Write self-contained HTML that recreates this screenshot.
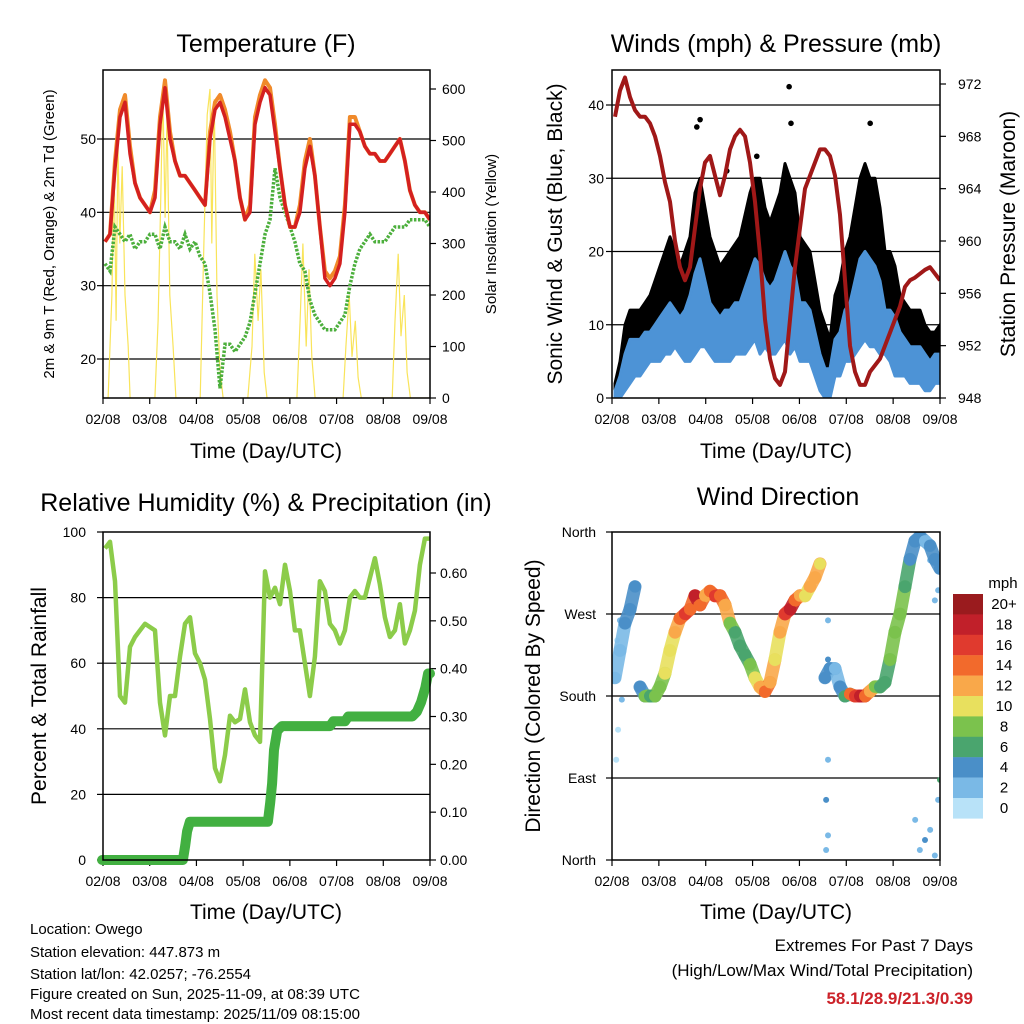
<!DOCTYPE html>
<html><head><meta charset="utf-8"><style>
html,body{margin:0;padding:0;background:#fff;}
svg{display:block;font-family:"Liberation Sans",Arial,sans-serif;}
</style></head><body>
<svg id="root" width="1024" height="1024" viewBox="0 0 1024 1024" xmlns="http://www.w3.org/2000/svg">
<rect width="1024" height="1024" fill="#fff"/>
<g font-size="25" text-anchor="middle">
<text x="266" y="52">Temperature (F)</text>
<text x="776" y="52">Winds (mph) &amp; Pressure (mb)</text>
<text x="266" y="511">Relative Humidity (%) &amp; Precipitation (in)</text>
<text x="778" y="505">Wind Direction</text>
</g>
<g font-size="21" text-anchor="middle">
<text x="266" y="458">Time (Day/UTC)</text>
<text x="776" y="458">Time (Day/UTC)</text>
<text x="266" y="919">Time (Day/UTC)</text>
<text x="776" y="919">Time (Day/UTC)</text>
<text transform="translate(562,234) rotate(-90)">Sonic Wind &amp; Gust (Blue, Black)</text>
<text transform="translate(1015,234) rotate(-90)">Station Pressure (Maroon)</text>
<text transform="translate(46,696) rotate(-90)">Percent &amp; Total Rainfall</text>
<text transform="translate(540,696) rotate(-90)">Direction (Colored By Speed)</text>
</g>
<g font-size="15" text-anchor="middle">
<text transform="translate(54,234) rotate(-90)">2m &amp; 9m T (Red, Orange) &amp; 2m Td (Green)</text>
<text transform="translate(496,234) rotate(-90)">Solar Insolation (Yellow)</text>
</g>
<g font-size="15">
<text x="30" y="934">Location: Owego</text>
<text x="30" y="957">Station elevation: 447.873 m</text>
<text x="30" y="979">Station lat/lon: 42.0257; -76.2554</text>
<text x="30" y="999">Figure created on Sun, 2025-11-09, at 08:39 UTC</text>
<text x="30" y="1019">Most recent data timestamp: 2025/11/09 08:15:00</text>
</g>
<g text-anchor="end">
<text x="973" y="951" font-size="17">Extremes For Past 7 Days</text>
<text x="973" y="976" font-size="17">(High/Low/Max Wind/Total Precipitation)</text>
<text x="973" y="1004" font-size="17" font-weight="bold" fill="#cc2229">58.1/28.9/21.3/0.39</text>
</g>
<g id="layer"></g>
</svg>
<script>
// ---------- DATA ----------
const dayLabels = ["02/08","03/08","04/08","05/08","06/08","07/08","08/08","09/08"];
const tempT0 = 0.043, tempStep = 0.107;
const temp2m = [36,37,46,53,55,48,44,42,41,40,42,52,57,50,47,45,45,44,43,42,41,50,54,55,53,50,47,42,39,40,52,55,57,56,51,46,41,38,38,40,46,49,45,38,31,30,31,33,40,52,52,51,49,48,48,47,47,48,49,50,47,43,41,40,40,39];
const temp9m = [36,37,47,54,56,49,44,42,41,40,43,53,58,51,47,45,45,44,43,42,41,51,55,56,54,51,47,42,39,41,53,56,58,57,52,46,41,38,38,41,47,50,45,38,32,31,32,34,41,53,53,51,49,48,48,47,47,48,49,50,47,43,41,40,40,39];
const dewpt = [33,32,38,37,36,37,35,36,36,37,37,35,38,36,36,35,37,35,36,34,33,29,24,16,22,22,21,22,23,25,29,33,37,39,46,42,40,38,36,33,32,28,26,25,24,24,24,25,26,30,33,35,36,37,36,36,36,37,38,38,38,39,39,39,39,38];
const solarT = [0,0.11,0.19,0.24,0.28,0.32,0.36,0.41,0.47,0.54,0.58,1.11,1.18,1.24,1.28,1.33,1.37,1.43,1.5,1.56,2.08,2.16,2.23,2.29,2.33,2.38,2.44,2.5,2.57,3.1,3.19,3.25,3.32,3.38,3.45,3.51,4.15,4.22,4.28,4.35,4.41,4.47,4.54,5.14,5.2,5.27,5.33,5.4,5.46,5.53,6.19,6.25,6.32,6.38,6.45,6.51,6.58,7.0];
const solarV = [0,0,200,450,150,500,300,450,200,100,0,0,150,400,600,350,550,200,100,0,0,300,550,600,300,580,200,60,0,0,100,280,150,250,50,0,0,150,300,100,250,80,0,0,100,200,80,150,40,0,0,150,280,120,200,50,0,0];
const windT0 = 0.064, windStep = 0.1067;
const gustLo = [0,2,4,5,6,6,7,8,8,8,9,10,12,10,9,8,10,12,12,10,9,8,8,8,9,10,10,12,14,10,12,10,11,12,14,10,12,8,8,8,6,4,2,2,6,6,8,8,10,12,14,12,12,10,10,8,6,6,5,4,4,4,3,3,4,5];
const gustHi = [2,5,10,12,12,12,13,14,16,18,20,22,20,18,20,22,28,30,26,22,20,18,19,20,21,22,25,28,30,30,26,24,26,28,32,30,28,22,21,20,16,12,10,8,14,16,20,22,26,30,32,30,30,26,20,20,18,14,13,12,12,12,10,9,9,10];
const windLo = [0,0,1,2,3,3,4,5,5,5,6,6,7,6,5,5,6,7,7,6,5,5,5,5,6,6,6,7,8,6,7,6,6,7,8,6,7,5,5,5,3,1,0,0,3,3,5,5,6,7,8,7,7,6,6,5,3,3,3,2,2,2,1,1,2,2];
const windHi = [1,3,6,8,8,8,9,9,10,11,12,13,12,11,12,14,17,19,16,13,12,11,12,12,13,13,15,17,19,18,16,15,16,18,20,18,17,13,13,12,9,6,4,4,8,9,12,13,16,19,20,19,18,16,12,12,11,9,8,7,7,7,6,5,6,6];
const pressure = [969.5,971.5,972.5,971,970,969.5,969.5,969,968,966.5,964.5,963,960,958,957,958,961,964,966,966.5,965,963.5,965,967,968,968.5,968,966,963,959,954,951,949.5,949,950,954,958,961,964,965,966,967,967,966.5,965,962,957,952,950,949,949,950,950.5,951,952,953,954,955,956.5,957,957.2,957.5,957.8,958,957.5,957];
const gustOutT = [3.78,1.88,1.81,3.82,5.51,2.45,3.09];
const gustOutV = [42.5,38,37,37.5,37.5,31,33];
const rh = [95,97,85,50,48,65,68,70,72,71,70,48,38,50,50,62,72,74,63,60,55,43,28,24,32,44,42,43,52,42,38,36,88,80,83,78,90,82,70,70,60,50,62,85,82,72,70,66,70,80,82,80,80,86,92,84,74,68,70,78,66,70,76,90,98,98];
const precipT = [-0.02,1.71,1.76,1.8,1.86,3.53,3.58,3.62,3.66,3.73,3.83,4.86,4.93,5.18,5.25,6.62,6.72,6.81,6.9,6.96,7.0];
const precipV = [0,0,0.03,0.06,0.08,0.08,0.12,0.16,0.23,0.27,0.28,0.28,0.29,0.29,0.30,0.30,0.31,0.33,0.36,0.39,0.39];
const dirDeg = [200,230,260,275,300,190,180,180,180,190,205,230,250,265,270,275,290,280,290,295,290,290,280,260,250,235,225,215,200,190,185,195,220,250,270,275,285,290,290,300,310,325,200,210,210,190,180,182,180,180,180,185,190,190,195,220,250,270,300,330,350,355,350,345,330,320];
const dirSpd = [2,3,4,5,5,4,8,7,9,8,10,11,13,14,16,15,18,14,12,14,16,14,12,8,6,6,6,8,10,12,14,12,10,12,16,18,14,12,10,12,12,10,4,4,3,4,6,14,16,18,14,12,8,6,6,8,8,8,6,5,4,4,3,4,4,4];
const strayT = [0.17,0.11,0.21,0.13,0.09,4.61,4.61,4.61,4.57,4.57,4.61,6.57,6.68,6.79,6.89,6.96,7.0,6.47,6.79,6.89,6.96];
const strayD = [263,241,176,143,110,263,220,110,66,11,27,11,22,33,5,66,88,44,329,285,296];
const strayS = [2,1,2,1,0,3,4,3,4,3,2,3,4,3,2,3,6,2,2,3,2];
const cbLabels = ["20+","18","16","14","12","10","8","6","4","2","0"];
const cbColors = ["#9a1b1e","#c1202a","#e03a2e","#f26a2c","#f9a84a","#e8e05e","#7bc24d","#4aa56e","#4a8fc8","#7ab9e6","#b8e2f8"];

// ---------- HELPERS ----------
const NS="http://www.w3.org/2000/svg";
const layer=document.getElementById('layer');
function mk(tag,attrs,parent){const e=document.createElementNS(NS,tag);for(const k in attrs)e.setAttribute(k,attrs[k]);(parent||layer).appendChild(e);return e;}
function lin(d0,d1,p0,p1){return v=>p0+(v-d0)*(p1-p0)/(d1-d0);}
function pathFrom(xs,ys){let d='';for(let i=0;i<xs.length;i++)d+=(i?'L':'M')+xs[i].toFixed(1)+','+ys[i].toFixed(1);return d;}
function times(t0,step,n){const a=[];for(let i=0;i<n;i++)a.push(t0+i*step);return a;}
function spdColor(s){let idx=Math.min(10,Math.floor(s/2));return cbColors[10-idx];}

function panelFrame(name,x0,x1,y0,y1,xs,gridVals,yl,leftLabels,leftFmt,lx,rightVals,yr,rightFmt,rx){
  const g=mk('g',{});
  
  
  gridVals.forEach((v,i)=>{
    const y=yl(v);
    if(y>y0+1&&y<y1-1){const l=mk('line',{x1:x0,x2:x1,y1:y,y2:y,stroke:'#000','stroke-width':1.2},g);
    
    }
    mk('line',{x1:x0-6,x2:x0,y1:y,y2:y,stroke:'#000','stroke-width':1.2},g);
    const t=mk('text',{x:lx,y:y+5,'font-size':14,'text-anchor':'end'},g);t.textContent=leftLabels[i];
    
    
  });
  if(rightVals){rightVals.forEach(v=>{const y=yr(v);
    mk('line',{x1:x1,x2:x1+6,y1:y,y2:y,stroke:'#000','stroke-width':1.2},g);
    const t=mk('text',{x:rx,y:y+5,'font-size':14},g);t.textContent=rightFmt(v);
    
    });}
  dayLabels.forEach((lab,i)=>{const x=xs(i);
    mk('line',{x1:x,x2:x,y1:y1,y2:y1+6,stroke:'#000','stroke-width':1.2},g);
    const t=mk('text',{x:x,y:y1+26,'font-size':14,'text-anchor':'middle'},g);t.textContent=lab;
    
    });
  return g;
}
function box(name,x0,x1,y0,y1){const r=mk('rect',{x:x0,y:y0,width:x1-x0,height:y1-y0,fill:'none',stroke:'#000','stroke-width':1.5});
  
  }

// ---------- PANEL 1 ----------
(function(){
  const x0=103,x1=430,y0=70,y1=398;
  const xs=lin(0,7,x0,x1), yT=lin(20,50,359,139), yS=lin(0,600,398,89);
  const clip=mk('clipPath',{id:'c1'});mk('rect',{x:x0,y:y0,width:x1-x0,height:y1-y0},clip);
  panelFrame('temp',x0,x1,y0,y1,xs,[20,30,40,50],yT,['20','30','40','50'],null,96,[0,100,200,300,400,500,600],yS,v=>String(v),442);
  const g=mk('g',{'clip-path':'url(#c1)'});
  const tt=times(tempT0,tempStep,temp2m.length);
  const s=mk('path',{d:pathFrom(solarT.map(xs),solarV.map(yS)),fill:'none',stroke:'#f9e45a','stroke-width':1.2},g);
  
  
  const d=mk('path',{d:pathFrom(tt.map(xs),dewpt.map(yT)),fill:'none',stroke:'#4caf3c','stroke-width':3.5,'stroke-dasharray':'2.5 1.5'},g);
  
  
  const o=mk('path',{d:pathFrom(tt.map(xs),temp9m.map(yT)),fill:'none',stroke:'#f08a2a','stroke-width':4,'stroke-linejoin':'round'},g);
  
  
  const r=mk('path',{d:pathFrom(tt.map(xs),temp2m.map(yT)),fill:'none',stroke:'#d42020','stroke-width':3.5,'stroke-linejoin':'round'},g);
  
  
  box('temp',x0,x1,y0,y1);
})();

// ---------- PANEL 2 ----------
(function(){
  const x0=612,x1=940,y0=70,y1=398;
  const xs=lin(0,7,x0,x1), yW=lin(0,40,398,105), yP=lin(948,972,398,84);
  const clip=mk('clipPath',{id:'c2'});mk('rect',{x:x0,y:y0,width:x1-x0,height:y1-y0},clip);
  panelFrame('winds',x0,x1,y0,y1,xs,[0,10,20,30,40],yW,['0','10','20','30','40'],null,604,[948,952,956,960,964,968,972],yP,v=>String(v),958);
  const g=mk('g',{'clip-path':'url(#c2)'});
  const tt=times(windT0,windStep,gustLo.length);
  const X=tt.map(xs);
  function band(lo,hi,fill,name){
    const xsr=X.slice().reverse(), hir=hi.map(yW).reverse();
    const p=mk('path',{d:pathFrom(X.concat(xsr),lo.map(yW).concat(hir))+'Z',fill:fill,stroke:fill,'stroke-width':3,'stroke-linejoin':'round'},g);
    
    
  }
  band(gustLo,gustHi,'#000','gust-band');
  band(windLo,windHi,'#4d93d6','sonic-wind-band');
  gustOutT.forEach((t,i)=>{const c=mk('circle',{cx:xs(t),cy:yW(gustOutV[i]),r:2.8,fill:'#000'},g);
    
    });
  const p=mk('path',{d:pathFrom(X,pressure.map(yP)),fill:'none',stroke:'#a01818','stroke-width':4,'stroke-linejoin':'round'},g);
  
  
  box('winds',x0,x1,y0,y1);
})();

// ---------- PANEL 3 ----------
(function(){
  const x0=103,x1=430,y0=532,y1=860;
  const xs=lin(0,7,x0,x1), yH=lin(0,100,860,532), yR=lin(0,0.6,860,573);
  const clip=mk('clipPath',{id:'c3'});mk('rect',{x:x0-8,y:y0-8,width:x1-x0+16,height:y1-y0+16},clip);
  panelFrame('humidity',x0,x1,y0,y1,xs,[0,20,40,60,80,100],yH,['0','20','40','60','80','100'],null,86,[0,0.1,0.2,0.3,0.4,0.5,0.6],yR,v=>v.toFixed(2),440);
  const g=mk('g',{'clip-path':'url(#c3)'});
  const tt=times(tempT0,tempStep,rh.length);
  const h=mk('path',{d:pathFrom(tt.map(xs),rh.map(yH)),fill:'none',stroke:'#8ccc4a','stroke-width':4.5,'stroke-linejoin':'round'},g);
  
  
  const p=mk('path',{d:pathFrom(precipT.map(xs),precipV.map(yR)),fill:'none',stroke:'#42b041','stroke-width':10,'stroke-linecap':'round','stroke-linejoin':'round'},g);
  
  
  box('humidity',x0,x1,y0,y1);
})();

// ---------- PANEL 4 ----------
(function(){
  const x0=612,x1=940,y0=532,y1=860;
  const xs=lin(0,7,x0,x1), yD=lin(0,360,860,532);
  const clip=mk('clipPath',{id:'c4'});mk('rect',{x:x0,y:y0,width:x1-x0,height:y1-y0},clip);
  panelFrame('direction',x0,x1,y0,y1,xs,[0,90,180,270,360],yD,['North','East','South','West','North'],null,596,null);
  const g=mk('g',{'clip-path':'url(#c4)'});
  strayT.forEach((t,i)=>{const c=mk('circle',{cx:xs(t),cy:yD(strayD[i]),r:3,fill:spdColor(strayS[i])},g);
    
    });
  const tt=times(windT0,windStep,dirDeg.length);
  for(let i=0;i<tt.length-1;i++){
    if(Math.abs(dirDeg[i+1]-dirDeg[i])>100)continue;
    const l=mk('line',{x1:xs(tt[i]),y1:yD(dirDeg[i]),x2:xs(tt[i+1]),y2:yD(dirDeg[i+1]),stroke:spdColor(dirSpd[i]),'stroke-width':13,'stroke-linecap':'round','stroke-opacity':0.9},g);
    
    
  }
  tt.forEach((t,i)=>{const c=mk('circle',{cx:xs(t),cy:yD(dirDeg[i]),r:6,fill:spdColor(dirSpd[i])},g);
    
    });
  box('direction',x0,x1,y0,y1);
  const cb=mk('g',{});
  
  
  const t0=mk('text',{x:1003,y:588,'font-size':15,'text-anchor':'middle'},cb);t0.textContent='mph';
  cbLabels.forEach((lab,i)=>{const y=594+i*20.4;
    mk('rect',{x:953,y:y,width:30,height:20.6,fill:cbColors[i]},cb);
    const t=mk('text',{x:1004,y:y+15,'font-size':15,'text-anchor':'middle'},cb);t.textContent=lab;
    
    });
})();
</script>
</body></html>
